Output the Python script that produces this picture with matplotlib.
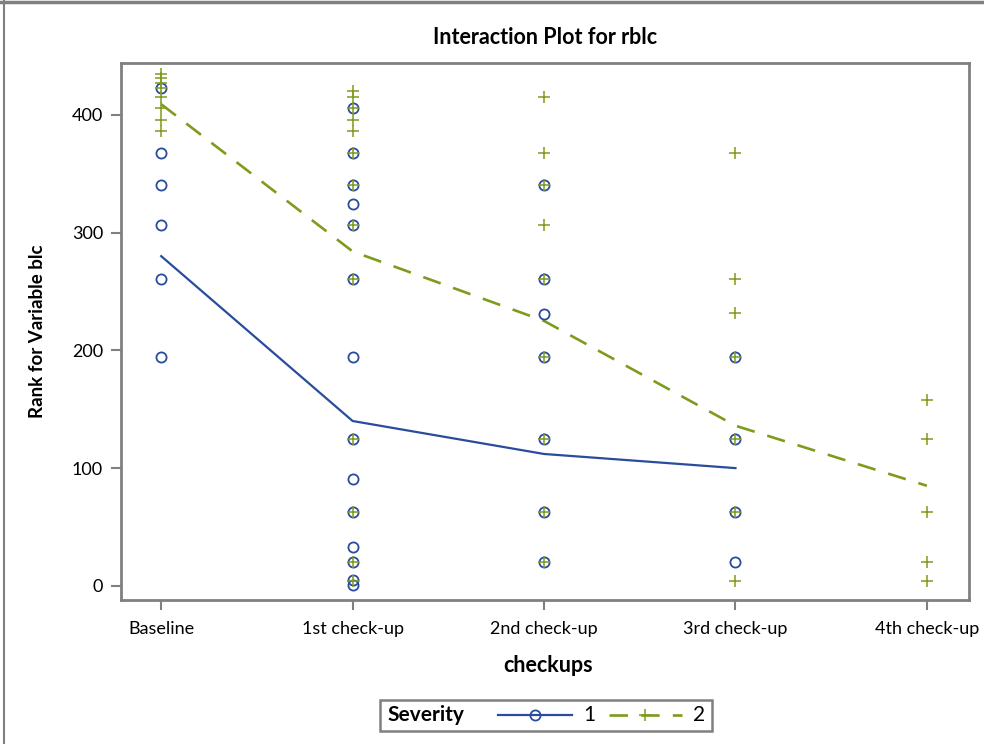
import matplotlib
matplotlib.use("Agg")
import matplotlib.pyplot as plt
from matplotlib.lines import Line2D
from matplotlib.patches import Rectangle

plt.rcParams['font.family'] = ['Lato', 'DejaVu Sans']

categories = ["Baseline", "1st check-up", "2nd check-up", "3rd check-up", "4th check-up"]

# Observed ranks, severity 1 (circles), per checkup
sev1_obs = [
    [423, 368, 340.5, 306.5, 261, 194.5],
    [406, 368, 340.5, 324, 306.5, 261, 194.5, 124.5, 91, 62.5, 33, 20.5, 5, 1],
    [340.5, 261, 231, 194.5, 124.5, 62.5, 20.5],
    [194.5, 124.5, 62.5, 20.5],
    [],
]
# Observed ranks, severity 2 (plus), per checkup
sev2_obs = [
    [435, 431, 427, 423, 415, 406, 396, 386],
    [420, 415, 406, 396, 386, 368, 340.5, 306.5, 261, 124.5, 62.5, 20.5, 4],
    [415, 368, 340.5, 306.5, 261, 194.5, 124.5, 62.5, 20.5],
    [368, 261, 232, 194.5, 124.5, 62.5, 4],
    [158, 124.5, 62.5, 20.5, 4],
]
# Mean ranks
sev1_mean = [280, 140, 112, 100]
sev2_mean = [409, 284, 225, 136, 85]

severity_levels = ['1', '2']

blue = '#2A4C9C'
green = '#7F9B1E'
gray = '#808080'

W, H = 984, 744
fig = plt.figure(figsize=(W/100, H/100), dpi=100)
ax = fig.add_axes([121/W, 1 - 600/H, (969-121)/W, (600-63)/H])

for i, vals in enumerate(sev1_obs):
    if vals:
        ax.plot([i]*len(vals), vals, linestyle='none', marker='o', ms=7.3,
                mfc='none', mec=blue, mew=1.3, zorder=3)
for i, vals in enumerate(sev2_obs):
    if vals:
        ax.plot([i]*len(vals), vals, linestyle='none', marker='+', ms=9,
                mec=green, mew=1.1, zorder=4)

ax.plot(range(len(sev1_mean)), sev1_mean, color=blue, lw=1.6, zorder=2)
ax.plot(range(len(sev2_mean)), sev2_mean, color=green, lw=1.9,
        dashes=(7, 5), zorder=2)

ax.set_xlim(-0.21, 4.22)
ax.set_ylim(-12, 444)
ax.set_xticks(range(len(categories)))
ax.set_xticklabels(categories, fontsize=13)
ax.set_yticks([0, 100, 200, 300, 400])
ax.tick_params(axis='both', direction='out', length=7, width=1.5, color=gray,
               labelsize=13)
ax.tick_params(axis='x', pad=8)
ax.tick_params(axis='y', pad=6)
for s in ax.spines.values():
    s.set_color(gray)
    s.set_linewidth(2)

fig.text(545/W, 1 - 38/H, "Interaction Plot for rblc", fontsize=15.5,
         fontweight='bold', ha='center', va='center')
fig.text(548/W, 1 - 665/H, "checkups", fontsize=15.5, fontweight='bold',
         ha='center', va='center')
fig.text(38/W, 1 - 331/H, "Rank for Variable blc", fontsize=13.5,
         fontweight='bold', ha='center', va='center', rotation=90)

# Legend (built manually in figure pixel coordinates)
def fx(x):
    return x / W

def fy(y):
    return 1 - y / H

fig.add_artist(Rectangle((fx(380), fy(731)), (712-380)/W, (731-700)/H,
                         fill=False, edgecolor=gray, lw=1.8,
                         transform=fig.transFigure))
ly = fy(715)
fig.text(fx(387), ly, "Severity", fontsize=15, fontweight='bold', ha='left', va='center')
fig.add_artist(Line2D([fx(498), fx(572)], [ly, ly], color=blue, lw=1.6))
fig.add_artist(Line2D([fx(535)], [ly], marker='o', ms=7.3, mfc='none', mec=blue,
                      mew=1.3, linestyle='none'))
fig.text(fx(583), ly, severity_levels[0], fontsize=15, ha='left', va='center')
fig.add_artist(Line2D([fx(609), fx(682)], [ly, ly], color=green, lw=1.9,
                      dashes=(7, 5)))
fig.add_artist(Line2D([fx(645)], [ly], marker='+', ms=9, mec=green, mew=1.1,
                      linestyle='none'))
fig.text(fx(693), ly, severity_levels[1], fontsize=15, ha='left', va='center')

# outer frame lines (top and left)
fig.add_artist(Line2D([0, 1], [1 - 1.5/H, 1 - 1.5/H], color=gray, lw=2.5))
fig.add_artist(Line2D([3.5/W, 3.5/W], [0, 1], color=gray, lw=1.5))

fig.savefig("out.png", dpi=100)
